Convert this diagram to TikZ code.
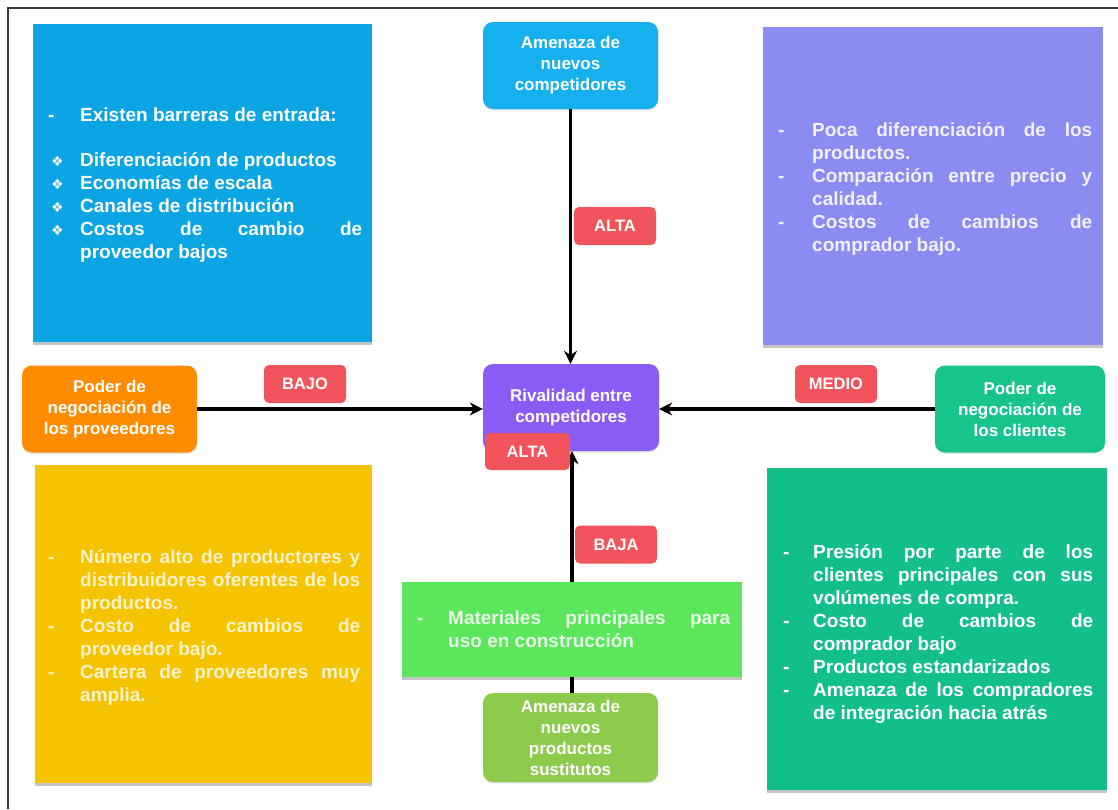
\documentclass[tikz,border=0pt]{standalone}
\usepackage{fontspec}
\setmainfont{Liberation Sans}
\newfontfamily\symfont{DejaVu Sans}
\usetikzlibrary{shadows,arrows.meta}

\definecolor{cBlue}{HTML}{0AA5E2}
\definecolor{cSky}{HTML}{16B0EE}
\definecolor{cLilac}{HTML}{8B8CF2}
\definecolor{cOrange}{HTML}{FF8C00}
\definecolor{cViolet}{HTML}{8A5CF6}
\definecolor{cTeal}{HTML}{17C48C}
\definecolor{cYellow}{HTML}{F5C300}
\definecolor{cLime}{HTML}{5CE65C}
\definecolor{cOlive}{HTML}{8CCB4B}
\definecolor{cJade}{HTML}{12BF8A}
\definecolor{cRed}{HTML}{F2545B}
\definecolor{cFrame}{HTML}{3A3A3A}

% justified bullet text with a hanging marker column
\newcommand{\bodytext}[3]{\parbox[t]{#1}{\fontsize{19}{23}\selectfont\bfseries
  \leftskip=#2\relax\parindent=0pt\parfillskip=0pt plus 1fil\relax
  \hbadness=10000 \emergencystretch=30pt #3}}
\newcommand{\itm}[1]{\par\noindent\llap{\makebox[\leftskip][l]{#1}}\ignorespaces}
\newcommand{\dia}{\hspace{3pt}{\symfont\fontsize{14}{14}\selectfont ❖}}

\tikzset{
  panel/.style={rectangle, inner sep=0pt,
    drop shadow={shadow xshift=0pt, shadow yshift=-3pt, opacity=0.45}},
  title/.style={rectangle, rounded corners=10pt, inner sep=0pt, align=center,
    text=white, font=\bfseries\fontsize{17}{21}\selectfont,
    minimum width=175pt, minimum height=87pt,
    drop shadow={shadow xshift=0pt, shadow yshift=-1.5pt, opacity=0.2}},
  tag/.style={rectangle, rounded corners=5pt, fill=cRed, text=white, inner sep=0pt,
    minimum width=82pt, minimum height=38pt,
    font=\bfseries\fontsize{16.5}{19}\selectfont},
  force/.style={line width=3.5pt, -{Stealth[length=13pt,width=13pt]}},
  link/.style={line width=3.5pt},
  body/.style={anchor=base west, inner sep=0pt},
}

\begin{document}
\begin{tikzpicture}[x=1pt,y=-1pt]
\fill[white] (0,0) rectangle (1118,809);
\useasboundingbox (0,0) rectangle (1118,809);
% page frame
\draw[cFrame, line width=1.5pt] (8,809) -- (8,8) -- (1118,8);

% large panels
\node[panel, fill=cBlue, minimum width=339pt, minimum height=318pt] (entrantesPanel) at (202.5,183) {};
\node[panel, fill=cLilac, minimum width=340pt, minimum height=318pt] (compradoresPanel) at (933,186) {};
\node[panel, fill=cYellow, minimum width=337pt, minimum height=318pt] (proveedoresPanel) at (203.5,624) {};
\node[panel, fill=cJade, minimum width=340pt, minimum height=322pt] (clientesPanel) at (937,629) {};
\node[panel, fill=cLime, minimum width=340pt, minimum height=95pt] (materiales) at (572,629.5) {};

% panel texts
\node[body, text=white] (entrantesText) at (48,121) {\bodytext{314pt}{32pt}{%
  \itm{-}Existen barreras de entrada:
  \par\vspace{22pt}%
  \itm{\dia}Diferenciación de productos
  \itm{\dia}Economías de escala
  \itm{\dia}Canales de distribución
  \itm{\dia}Costos de cambio de\linebreak proveedor bajos}};

\node[body, text=white!88!cLilac] (compradoresText) at (778,136) {\bodytext{314pt}{34pt}{%
  \itm{-}Poca diferenciación de los\linebreak productos.
  \itm{-}Comparación entre precio y\linebreak calidad.
  \itm{-}Costos de cambios de\linebreak comprador bajo.}};

\node[body, text=white!80!cYellow] (proveedoresText) at (48,563) {\bodytext{312pt}{32pt}{%
  \itm{-}Número alto de productores y\linebreak distribuidores oferentes de los\linebreak productos.
  \itm{-}Costo de cambios de\linebreak proveedor bajo.
  \itm{-}Cartera de proveedores muy\linebreak amplia.}};

\node[body, text=white] (clientesText) at (783,558) {\bodytext{310pt}{30pt}{%
  \itm{-}Presión por parte de los\linebreak clientes principales con sus\linebreak volúmenes de compra.
  \itm{-}Costo de cambios de\linebreak comprador bajo
  \itm{-}Productos estandarizados
  \itm{-}Amenaza de los compradores\linebreak de integración hacia atrás}};

\node[body, text=white!85!cLime] (materialesText) at (417,624) {\bodytext{313pt}{31pt}{%
  \itm{-}Materiales principales para\linebreak uso en construcción}};

% the five forces
\node[title, fill=cSky] (amenaza) at (570.5,65.5) {Amenaza de\\nuevos\\competidores};
\node[title, fill=cOrange] (proveedores) at (109.5,409) {Poder de\\negociación de\\los proveedores};
\node[title, fill=cViolet, minimum width=176pt] (rivalidad) at (571,407.5) {Rivalidad entre\\competidores};
\node[title, fill=cTeal, minimum width=170pt] (clientes) at (1020,409) {Poder de\\negociación de\\los clientes};
\node[title, fill=cOlive, minimum height=89pt] (sustitutos) at (570.5,737.5) {Amenaza de\\nuevos\\productos\\sustitutos};

% connectors
\draw[force] (amenaza.south) -- (amenaza.south |- rivalidad.north);
\draw[force] (proveedores.east) -- (proveedores.east -| rivalidad.west);
\draw[force] (clientes.west) -- (clientes.west -| rivalidad.east);
\draw[force] (materiales.north) -- (materiales.north |- rivalidad.south);
\draw[link] (materiales.south) -- (materiales.south |- sustitutos.north);

% intensity tags
\node[tag] (tagAmenaza) at (615,226) {ALTA};
\node[tag] (tagProveedores) at (305,384) {BAJO};
\node[tag] (tagClientes) at (836,384) {MEDIO};
\node[tag, minimum width=85pt, minimum height=37pt] (tagRivalidad) at (527.5,451.5) {ALTA};
\node[tag] (tagSustitutos) at (616,544.5) {BAJA};
\end{tikzpicture}
\end{document}
